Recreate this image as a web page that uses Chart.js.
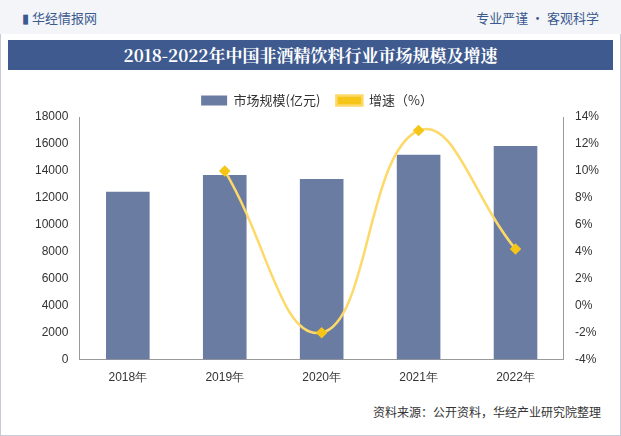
<!DOCTYPE html>
<html>
<head>
<meta charset="utf-8">
<script src="https://cdn.jsdelivr.net/npm/chart.js@4"></script>
<style>
  body { margin: 0; width: 621px; height: 436px; background: #fff; font-family: "Noto Sans CJK SC", sans-serif; position: relative; overflow: hidden; }
  .frame { position: absolute; left: 0; top: 0; width: 619px; height: 434px; border: 1px solid #c8ccd6; }
  .top { position: absolute; left: 0; top: 0; width: 621px; height: 34px; background: #f3f5f9; }
  .logo { position: absolute; left: 22px; top: 8px; font-size: 13px; color: #3d5a8e; }
  .slogan { position: absolute; right: 22px; top: 8px; font-size: 13px; color: #3d5a8e; }
  .title { position: absolute; left: 8px; top: 40px; width: 605px; height: 30px; background: #3e5a8f; color: #fff; font-size: 17px; font-weight: bold; text-align: center; line-height: 30px; font-family: "Noto Serif CJK SC", "Noto Sans CJK SC", serif; }
  .src { position: absolute; right: 20px; top: 403px; font-size: 12px; color: #333; }
  .wrap { position: absolute; left: 8px; top: 78px; width: 606px; height: 310px; }
</style>
</head>
<body>
<div class="frame"></div>
<div class="top"></div>
<div class="logo">▮ 华经情报网</div>
<div class="slogan">专业严谨 • 客观科学</div>
<div class="title">2018-2022年中国非酒精饮料行业市场规模及增速</div>
<div class="wrap"><canvas id="c"></canvas></div>
<div class="src">资料来源：公开资料，华经产业研究院整理</div>
<script>
const years = ['2018年', '2019年', '2020年', '2021年', '2022年'];
const marketSize = [12450, 13700, 13400, 15200, 15850];
const growth = [null, 10, -2, 13, 4.2];

new Chart(document.getElementById('c'), {
  data: {
    labels: years,
    datasets: [{
      type: 'line',
      label: '增速（%）',
      data: growth,
      yAxisID: 'y1',
      borderColor: '#fcd968',
      backgroundColor: '#f5c518',
      borderWidth: 2.5,
      tension: 0.45,
      pointStyle: 'rectRot',
      pointRadius: 4,
      pointBackgroundColor: '#f5c518',
      pointBorderColor: '#f5c518'
    }, {
      type: 'bar',
      label: '市场规模(亿元)',
      data: marketSize,
      yAxisID: 'y',
      backgroundColor: '#6b7ca3',
      barPercentage: 0.45,
      categoryPercentage: 1
    }]
  },
  options: {
    responsive: true,
    maintainAspectRatio: false,
    animation: false,
    layout: { padding: { left: 24, right: 12, top: 0, bottom: 0 } },
    plugins: {
      legend: {
        reverse: true,
        labels: { font: { size: 13, family: 'Noto Sans CJK SC' }, color: '#333', boxWidth: 26, boxHeight: 10, padding: 16 }
      }
    },
    scales: {
      x: {
        grid: { display: false },
        border: { color: '#999' },
        ticks: { color: '#333', font: { size: 12 } }
      },
      y: {
        min: 0, max: 18000,
        ticks: { stepSize: 2000, color: '#333', font: { size: 12 }, callback: v => String(v) },
        grid: { display: false },
        border: { color: '#999' }
      },
      y1: {
        position: 'right',
        min: -4, max: 14,
        ticks: { stepSize: 2, color: '#333', font: { size: 12 }, callback: v => v + '%' },
        grid: { display: false },
        border: { color: '#999' }
      }
    }
  }
});
</script>
</body>
</html>
